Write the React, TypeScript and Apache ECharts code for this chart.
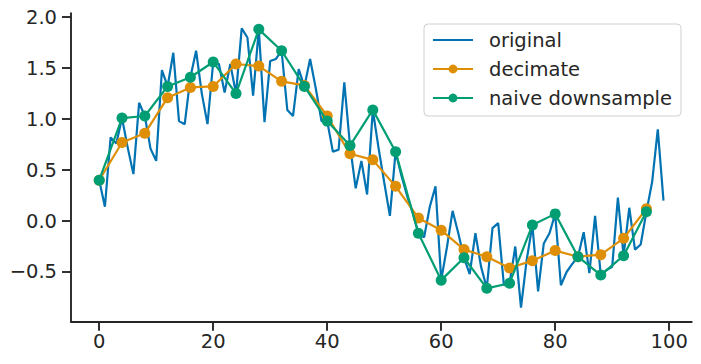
import React, { useEffect, useRef } from "react";
import * as echarts from "echarts";

const original: number[] = [
  0.40, 0.14, 0.82, 0.76, 1.01, 0.72, 0.46, 1.16, 1.03, 0.71,
  0.59, 1.48, 1.32, 1.65, 0.98, 0.95, 1.41, 1.67, 1.25, 0.95,
  1.56, 1.54, 1.26, 1.54, 1.25, 1.89, 1.80, 1.23, 1.88, 0.97,
  1.57, 1.59, 1.67, 1.09, 1.03, 1.49, 1.32, 1.59, 1.30, 0.98,
  0.98, 0.68, 0.70, 1.36, 0.74, 0.32, 0.59, 0.26, 1.09, 0.72,
  0.38, 0.05, 0.68, 0.45, 0.25, 0.08, -0.12, -0.16, 0.14, 0.34,
  -0.58, -0.26, 0.10, -0.12, -0.36, -0.52, -0.12, -0.45, -0.66, -0.07,
  -0.02, -0.63, -0.61, -0.25, -0.85, -0.38, -0.04, -0.69, -0.22, -0.12,
  0.07, -0.63, -0.50, -0.42, -0.35, -0.11, -0.51, 0.05, -0.53, -0.48,
  -0.45, 0.23, -0.34, 0.13, -0.28, -0.23, 0.09, 0.38, 0.90, 0.20,
];

const downX: number[] = [
  0, 4, 8, 12, 16, 20, 24, 28, 32, 36, 40, 44, 48, 52, 56, 60, 64, 68, 72, 76, 80, 84, 88, 92, 96,
];

const decimate: number[] = [
  0.40, 0.77, 0.86, 1.21, 1.31, 1.32, 1.54, 1.52, 1.37, 1.33,
  1.03, 0.66, 0.60, 0.34, 0.03, -0.09, -0.28, -0.35, -0.46, -0.39,
  -0.29, -0.35, -0.33, -0.17, 0.12,
];

const naive: number[] = [
  0.40, 1.01, 1.03, 1.32, 1.41, 1.56, 1.25, 1.88, 1.67, 1.32,
  0.98, 0.74, 1.09, 0.68, -0.12, -0.58, -0.36, -0.66, -0.61, -0.04,
  0.07, -0.35, -0.53, -0.34, 0.09,
];

const xTicks: number[] = [0, 20, 40, 60, 80, 100];
const yTicks: number[] = [-0.5, 0, 0.5, 1.0, 1.5, 2.0];

const FONT = "DejaVu Sans";
const INK = "#262626";

export default function App() {
  const ref = useRef<HTMLDivElement>(null);

  useEffect(() => {
    if (!ref.current) return;
    const chart = echarts.init(ref.current, undefined, { renderer: "svg" });
    const fmtY = (v: number) =>
      v < 0 ? "\u2212" + Math.abs(v).toFixed(1) : v.toFixed(1);

    chart.setOption({
      animation: false,
      backgroundColor: "#ffffff",
      textStyle: { fontFamily: FONT },
      grid: { left: 71, right: 9.3, top: 13.3, bottom: 42.3 },
      legend: {
        left: 424,
        top: 24,
        orient: "vertical",
        data: [
          { name: "original", itemStyle: { opacity: 0 } },
          { name: "decimate" },
          { name: "naive downsample" },
        ],
        itemWidth: 40,
        itemHeight: 11,
        itemGap: 9,
        padding: [6, 9, 8, 8],
        backgroundColor: "rgba(255,255,255,0.8)",
        borderColor: "#d0d0d0",
        borderWidth: 1,
        borderRadius: 4,
        textStyle: {
          fontFamily: FONT,
          fontSize: 19.5,
          lineHeight: 20,
          color: INK,
          padding: [0, 0, 0, 11],
        },
      },
      xAxis: {
        type: "value",
        min: -4.95,
        max: 103.95,
        splitLine: { show: false },
        axisLine: { show: true, onZero: false, lineStyle: { color: INK, width: 1.9 } },
        axisTick: {
          show: true,
          length: 9,
          customValues: xTicks,
          lineStyle: { color: INK, width: 1.9 },
        },
        axisLabel: {
          customValues: xTicks,
          margin: 10,
          fontFamily: FONT,
          fontSize: 19.5,
          color: INK,
        },
      },
      yAxis: {
        type: "value",
        min: -0.9875,
        max: 2.0375,
        splitLine: { show: false },
        axisLine: { show: true, onZero: false, lineStyle: { color: INK, width: 1.9 } },
        axisTick: {
          show: true,
          length: 9,
          customValues: yTicks,
          lineStyle: { color: INK, width: 1.9 },
        },
        axisLabel: {
          customValues: yTicks,
          margin: 14,
          fontFamily: FONT,
          fontSize: 19.5,
          color: INK,
          formatter: fmtY,
        },
      },
      series: [
        {
          name: "original",
          type: "line",
          data: original.map((v, i) => [i, v]),
          symbol: "none",
          lineStyle: { color: "#0173b2", width: 2.2 },
          itemStyle: { color: "#0173b2" },
          z: 2,
        },
        {
          name: "decimate",
          type: "line",
          data: downX.map((x, i) => [x, decimate[i]]),
          symbol: "circle",
          symbolSize: 11,
          lineStyle: { color: "#de8f05", width: 2.2 },
          itemStyle: { color: "#de8f05" },
          z: 3,
        },
        {
          name: "naive downsample",
          type: "line",
          data: downX.map((x, i) => [x, naive[i]]),
          symbol: "circle",
          symbolSize: 11,
          lineStyle: { color: "#029e73", width: 2.2 },
          itemStyle: { color: "#029e73" },
          z: 4,
        },
      ],
    });

    return () => chart.dispose();
  }, []);

  return (
    <div
      ref={ref}
      style={{ position: "fixed", left: 0, top: 0, width: 701, height: 364 }}
    />
  );
}
